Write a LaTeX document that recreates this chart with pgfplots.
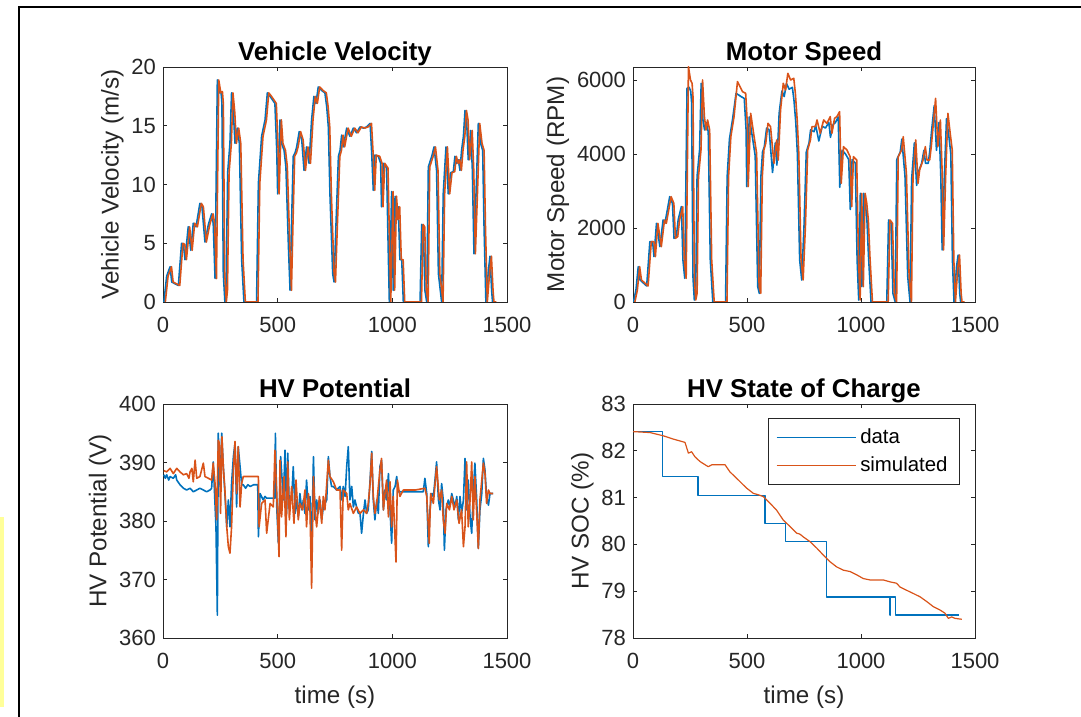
\documentclass[border=0pt]{standalone}
\usepackage{fontspec}
\setmainfont{Liberation Sans}
\usepackage{pgfplots}
\usepackage{pgfplotstable}
\pgfplotsset{compat=1.18}

\definecolor{mblue}{HTML}{0072BD}
\definecolor{morange}{HTML}{D95319}
\definecolor{axgray}{HTML}{262626}
\definecolor{pastel}{HTML}{FFFF99}

% vehicle velocity (m/s), one trace read off, used for both series
\pgfplotstableread{
t v
2 0
4 0
16 2.2
31 3.0
38 1.7
67 1.4
81 5.0
89 4.9
96 3.6
110 6.4
121 4.4
132 6.7
144 6.4
161 8.4
170 8.1
183 5.1
198 6.6
212 7.5
219 6.7
227 2.0
237 18.9
246 17.8
253 17.9
257 16.9
263 2.4
270 0
275 1.0
282 11.0
292 13.5
299 17.8
307 16.1
314 13.5
324 14.8
333 13.5
343 3.6
353 0
408 0
416 10.1
430 14.1
445 15.5
455 17.8
467 17.5
488 16.9
496 12.9
500 9.2
510 15.5
517 13.5
528 12.9
536 11.5
547 4.7
554 1.0
561 7.0
568 12.4
576 12.7
583 13.2
594 14.5
605 13.8
615 11.2
626 13.2
637 11.8
648 15.5
658 17.5
667 16.9
677 18.3
692 18.0
706 17.8
714 16.6
721 14.9
728 9.2
740 2.4
746 1.7
754 6.4
765 12.4
772 12.9
779 14.2
786 13.2
801 14.8
815 14.1
830 14.8
844 14.4
859 14.9
874 14.8
888 14.9
903 15.2
910 12.7
917 9.5
924 12.5
939 12.4
949 11.8
953 8.1
961 11.8
975 11.4
983 3.6
987 0
997 9.4
1004 1.0
1012 9.0
1019 7.0
1026 8.1
1033 3.6
1041 3.6
1048 0
1121 0
1128 6.6
1135 6.4
1142 1.0
1150 0
1157 11.5
1172 12.4
1182 13.2
1193 11.2
1201 2.4
1215 0
1222 9.2
1234 13.2
1244 9.2
1254 11.0
1266 11.1
1273 12.4
1281 11.8
1288 12.1
1295 11.2
1302 12.9
1310 14.1
1317 16.3
1324 15.5
1331 12.1
1342 14.6
1349 11.2
1356 4.1
1365 9.2
1375 15.2
1385 13.5
1394 12.9
1400 6.4
1408 0
1419 2.7
1426 3.9
1433 1.0
1437 0
1448 0
}\vel

% motor speed (RPM): data, simulated
\pgfplotstableread{
t b o
2 0 0
13 324 324
23 955 955
31 594 594
60 432 432
74 1630 1630
86 1630 1630
92 1225 1225
103 2126 2126
118 1495 1495
132 2216 2216
140 2126 2126
161 2846 2846
173 2666 2666
180 1720 1720
190 1765 1765
198 2216 2216
212 2576 2576
219 1135 1135
227 640 640
237 5773 6359
246 5800 5999
253 5700 5909
257 5400 5548
263 685 685
269 54 54
275 234 234
281 3387 3387
292 4107 4107
299 5909 5999
307 4900 5008
314 4648 4648
321 4850 4918
330 4600 4648
339 1135 1135
350 0 0
406 0 0
413 3387 3387
423 4400 4467
437 4950 5008
452 5640 5954
474 5550 5683
488 5500 5638
496 4650 4738
499 3116 3116
510 5000 5098
525 4400 4467
536 3950 4017
547 414 414
554 234 234
561 3387 3387
568 4050 4107
576 4200 4287
586 4700 4828
597 4650 4738
612 3500 3747
624 4300 4377
631 3700 3837
641 5100 5188
653 5700 5909
663 5550 5728
673 5900 6179
685 5750 5999
699 5800 6044
706 5450 5638
714 4850 4918
721 4000 4017
731 1135 1135
740 594 594
750 2036 2036
760 4050 4107
772 4300 4377
779 4650 4738
794 4600 4738
801 4780 4918
815 4350 4557
830 4750 4918
844 4700 4828
859 4850 5008
866 4450 4557
878 4800 4963
888 4850 5008
900 5000 5143
907 3100 3206
917 4100 4197
932 4000 4107
946 3850 3927
953 2500 2576
961 3850 3927
975 3750 3837
983 1135 1135
990 54 54
997 2936 2936
1004 414 414
1012 2936 2936
1019 2666 2666
1026 2216 2216
1033 1225 1225
1044 0 0
1113 0 0
1121 2216 2216
1132 2126 2126
1140 234 234
1150 0 0
1157 3850 3927
1172 4050 4107
1179 4400 4467
1193 3400 3477
1205 685 685
1215 0 0
1222 3300 3387
1234 4300 4377
1244 3150 3206
1251 3500 3567
1266 3750 3837
1276 4100 4197
1283 3750 3837
1295 3750 3837
1302 4100 4197
1310 4650 4738
1321 5300 5503
1331 4100 4197
1342 4850 4918
1350 3400 3477
1356 1405 1405
1365 3300 3387
1375 4950 5098
1385 4500 4557
1394 4000 4107
1401 1135 1135
1408 0 0
1419 955 955
1426 1270 1270
1433 234 234
1437 0 0
1448 0 0
}\motor

% HV potential (V), data
\pgfplotstableread{
t v
4 387.9
10 387.3
16 387.9
25 387.0
31 387.6
45 387.3
55 387.9
60 387.0
74 386.2
89 385.6
103 385.3
118 385.6
132 385.0
147 385.3
161 385.6
176 385.3
190 385.0
205 385.3
212 385.6
219 390.1
231 379.0
237 363.9
241 395.0
249 385.9
256 395.0
263 389.3
270 384.7
278 379.0
285 383.6
292 379.0
299 386.4
307 391.0
314 393.3
321 382.4
328 392.7
336 389.3
343 386.2
350 386.2
360 385.6
370 386.2
380 385.9
395 386.2
406 386.2
413 386.2
416 377.3
423 384.7
437 383.6
445 384.2
452 383.9
488 383.9
490 395.0
496 382.4
503 376.2
513 391.0
525 383.6
532 392.1
539 381.3
544 391.6
551 381.9
556 383.6
561 383.6
568 389.3
576 381.3
583 383.6
590 380.7
597 384.7
605 381.9
612 383.6
619 381.3
626 387.0
634 381.9
641 384.2
648 375.0
656 391.0
663 380.2
670 383.6
677 381.3
685 383.6
692 380.2
699 382.4
714 383.6
721 391.0
728 387.6
735 385.9
743 385.9
757 385.3
772 385.9
779 383.6
786 385.9
794 384.2
801 389.3
808 392.7
815 383.6
823 385.9
830 382.4
837 383.6
844 382.4
852 381.3
859 381.3
866 377.9
874 381.3
881 383.6
888 381.3
895 381.9
903 387.0
910 391.9
917 383.6
924 380.2
932 383.6
939 381.3
946 389.3
953 390.4
961 381.9
968 385.3
975 383.6
983 388.1
990 381.9
997 376.2
1004 385.3
1012 385.9
1019 387.6
1026 385.0
1033 385.0
1055 385.0
1135 385.0
1142 387.3
1150 384.7
1157 375.6
1164 381.9
1172 384.7
1179 384.2
1186 387.0
1193 390.1
1201 383.6
1208 381.9
1215 386.4
1222 383.6
1227 375.0
1234 381.9
1244 383.6
1251 382.4
1259 384.7
1266 383.6
1273 382.4
1281 384.2
1288 380.2
1295 384.2
1302 381.3
1310 383.6
1317 390.7
1324 381.9
1331 387.0
1339 380.7
1346 377.9
1353 384.7
1360 389.9
1368 383.6
1375 375.3
1382 381.9
1390 384.7
1397 390.7
1404 388.7
1411 384.2
1419 382.7
1426 384.7
1440 384.7
}\hvdata

% HV potential (V), simulated
\pgfplotstableread{
t v
4 388.6
16 388.4
31 389.0
45 388.1
60 389.0
74 388.4
89 387.9
103 388.1
113 387.3
118 388.4
126 389.0
132 386.7
140 390.4
147 387.3
161 387.6
176 389.9
183 387.6
198 387.3
212 387.0
219 389.9
227 386.4
234 380.2
241 393.8
246 393.3
251 381.3
257 394.4
263 389.3
270 385.3
278 379.0
285 375.6
292 374.5
299 379.0
307 388.7
314 393.6
321 384.7
328 392.7
336 382.4
343 386.4
350 387.6
380 387.6
416 387.6
419 379.0
430 383.0
445 383.6
452 377.9
467 383.0
481 382.4
488 392.1
496 384.7
506 373.9
510 390.4
517 380.7
528 387.6
536 377.3
544 390.1
551 380.2
561 385.9
571 379.6
580 387.0
590 380.2
597 383.0
609 381.9
619 385.3
626 379.0
634 384.7
641 381.9
648 368.5
656 387.6
663 381.6
670 379.0
682 384.2
692 379.6
699 384.2
706 381.9
714 386.4
721 390.4
728 387.6
743 386.7
757 385.3
772 385.3
779 375.0
786 385.3
801 384.7
808 381.9
815 383.0
830 381.3
844 382.4
859 381.3
874 381.9
888 381.3
895 383.0
903 386.4
910 391.6
917 384.2
924 381.3
932 383.0
946 388.7
953 390.7
961 381.9
968 384.7
975 387.0
983 380.7
990 386.7
997 379.0
1004 384.2
1016 373.0
1022 387.0
1033 384.2
1048 385.3
1100 385.3
1142 385.6
1150 384.2
1161 376.2
1167 384.7
1179 383.0
1193 389.3
1205 383.6
1215 385.3
1222 380.2
1230 377.9
1237 383.0
1249 381.9
1259 384.2
1269 381.9
1281 383.6
1291 379.6
1302 381.9
1310 375.6
1317 379.0
1324 390.1
1331 379.0
1339 383.6
1346 390.1
1353 380.2
1360 387.6
1368 381.3
1375 375.3
1382 383.6
1397 389.9
1404 388.1
1411 383.0
1419 385.3
1426 384.7
1440 384.7
}\hvsim

% HV state of charge (%), data
\pgfplotstableread{
t s
0 82.41
130 82.41
130 81.45
285 81.45
285 81.04
579 81.04
579 80.45
668 80.45
668 80.06
849 80.06
849 78.88
1127 78.88
1127 78.49
1129 78.49
1129 78.88
1152 78.88
1152 78.49
1431 78.49
}\socdata

% HV state of charge (%), simulated
\pgfplotstableread{
t s
1 82.41
75 82.39
133 82.32
177 82.25
228 82.18
243 81.95
257 81.98
272 81.87
294 81.77
330 81.66
345 81.70
404 81.70
425 81.55
455 81.41
484 81.27
499 81.20
528 81.09
550 81.06
572 81.02
601 80.88
630 80.73
659 80.52
689 80.38
718 80.24
732 80.22
747 80.16
776 80.06
806 79.92
835 79.77
864 79.63
893 79.52
922 79.45
952 79.42
981 79.35
1010 79.27
1040 79.24
1098 79.24
1127 79.20
1156 79.17
1171 79.09
1200 79.02
1230 78.95
1259 78.88
1288 78.78
1317 78.67
1346 78.60
1368 78.53
1383 78.42
1398 78.45
1412 78.42
1442 78.40
}\socsim

\pgfplotsset{
  matlab/.style={
    scale only axis,
    xmin=0, xmax=1500, xtick={0,500,1000,1500},
    tick align=inside,
    major tick length=2.2pt,
    axis line style={axgray, line width=0.4pt},
    every tick/.style={axgray, line width=0.4pt},
    tick label style={font=\fontsize{11}{13}\selectfont, text=axgray},
    label style={font=\fontsize{12.1}{14}\selectfont, text=axgray},
    every axis title shift=0pt,
    title style={font=\bfseries\fontsize{12.9}{15}\selectfont,
      at={(0.5,1)}, anchor=base, yshift=3.4pt},
    /pgf/number format/assume math mode=true,
    /pgf/number format/1000 sep={},
    scaled ticks=false,
    xticklabel style={yshift=-4.2pt},
    xlabel style={yshift=-1.5pt},
    ylabel shift=-3pt,
    every axis plot/.append style={line width=0.8pt, line join=round},
  },
}

\begin{document}
\begin{tikzpicture}
\useasboundingbox (0,0) rectangle (540.5pt,358.5pt);
\fill[pastel] (0,5pt) rectangle (2pt,100pt);
\draw[black, line width=1.35pt] (9.5pt,-2pt) -- (9.5pt,355pt) -- (545pt,355pt);

\begin{axis}[matlab, at={(81.5pt,207.5pt)}, anchor=south west,
  width=172pt, height=117.5pt,
  ymin=0, ymax=20, ytick={0,5,10,15,20},
  title={Vehicle Velocity}, ylabel={Vehicle Velocity (m/s)}]
  \addplot[mblue] table[x=t, y=v] {\vel};
  \addplot[morange, xshift=0.7pt] table[x=t, y=v] {\vel};
\end{axis}

\begin{axis}[matlab, at={(316.5pt,207.5pt)}, anchor=south west,
  width=171pt, height=117.5pt,
  ymin=0, ymax=6350, ytick={0,2000,4000,6000},
  title={Motor Speed}, ylabel={Motor Speed (RPM)}]
  \addplot[mblue] table[x=t, y=b] {\motor};
  \addplot[morange, xshift=0.7pt] table[x=t, y=o] {\motor};
\end{axis}

\begin{axis}[matlab, at={(81.5pt,39.5pt)}, anchor=south west,
  width=172pt, height=117pt,
  ymin=360, ymax=400, ytick={360,370,380,390,400},
  title={HV Potential}, ylabel={HV Potential (V)}, xlabel={time (s)}]
  \addplot[mblue] table[x=t, y=v] {\hvdata};
  \addplot[morange] table[x=t, y=v] {\hvsim};
\end{axis}

\begin{axis}[matlab, at={(316.5pt,39.5pt)}, anchor=south west,
  width=171pt, height=117pt,
  ymin=78, ymax=83, ytick={78,79,80,81,82,83},
  title={HV State of Charge}, ylabel={HV SOC (\%)}, xlabel={time (s)},
  legend style={at={(0.956,0.94)}, anchor=north east, draw=axgray,
    line width=0.4pt, font=\fontsize{10.2}{12}\selectfont,
    inner xsep=4pt, inner ysep=3pt, row sep=1pt},
  legend cell align=left]
  \addlegendimage{legend image code/.code={\draw[mblue, line width=0.6pt] (0pt,0pt) -- (39.5pt,0pt);}}
  \addlegendentry{data}
  \addlegendimage{legend image code/.code={\draw[morange, line width=0.6pt] (0pt,0pt) -- (39.5pt,0pt);}}
  \addlegendentry{simulated}
  \addplot[mblue, line width=0.7pt, forget plot] table[x=t, y=s] {\socdata};
  \addplot[morange, line width=0.6pt, forget plot] table[x=t, y=s] {\socsim};
\end{axis}
\end{tikzpicture}
\end{document}
